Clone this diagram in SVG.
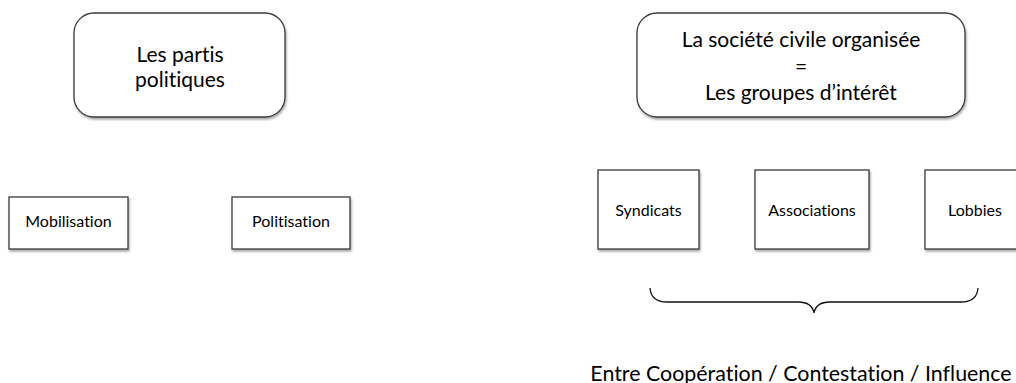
<svg xmlns="http://www.w3.org/2000/svg" width="1016" height="383" viewBox="0 0 1016 383">
<style>
.box{fill:#fff;stroke:#3a3a3a;stroke-width:1.3;filter:url(#sh)}
.t{font-family:Lato,"Open Sans",sans-serif;fill:#000;text-anchor:middle;font-variant-ligatures:none}
.big{font-size:21px}
.sm{font-size:16px}
.brace{fill:none;stroke:#111;stroke-width:1.3}
</style>
<defs>
<filter id="sh" x="-10%" y="-10%" width="120%" height="130%">
<feDropShadow dx="1" dy="2" stdDeviation="1.2" flood-color="#000" flood-opacity="0.35"/>
</filter>
</defs>
<rect width="1016" height="383" fill="#fff"/>
<g id="partis">
<rect class="box" x="74" y="13" width="211" height="104" rx="20"/>
<text class="t big" x="180" y="62">Les partis</text>
<text class="t big" x="180" y="87">politiques</text>
</g>
<g id="mobilisation">
<rect class="box" x="9" y="197" width="119" height="52"/>
<text class="t sm" x="68.5" y="227">Mobilisation</text>
</g>
<g id="politisation">
<rect class="box" x="232" y="197" width="118" height="52"/>
<text class="t sm" x="291" y="227">Politisation</text>
</g>
<g id="societe">
<rect class="box" x="637" y="13" width="328" height="104" rx="20"/>
<text class="t big" x="801" y="47">La société civile organisée</text>
<text class="t big" x="801" y="74">=</text>
<text class="t big" x="801" y="100">Les groupes d’intérêt</text>
</g>
<g id="syndicats">
<rect class="box" x="598" y="170" width="101" height="79"/>
<text class="t sm" x="648.5" y="216">Syndicats</text>
</g>
<g id="associations">
<rect class="box" x="755" y="170" width="114" height="79"/>
<text class="t sm" x="812" y="216">Associations</text>
</g>
<g id="lobbies">
<rect class="box" x="925" y="170" width="101" height="79"/>
<text class="t sm" x="975" y="216">Lobbies</text>
</g>
<g id="connectors">
<path class="brace" d="M650,288 Q651,302 667,302 L798,302 Q812,302 814,313 Q816,302 830,302 L961,302 Q977,302 978,288"/>
</g>
<g id="bottom">
<text class="t" style="font-size:21.4px" x="801" y="381">Entre Coopération / Contestation / Influence</text>
</g>
</svg>
